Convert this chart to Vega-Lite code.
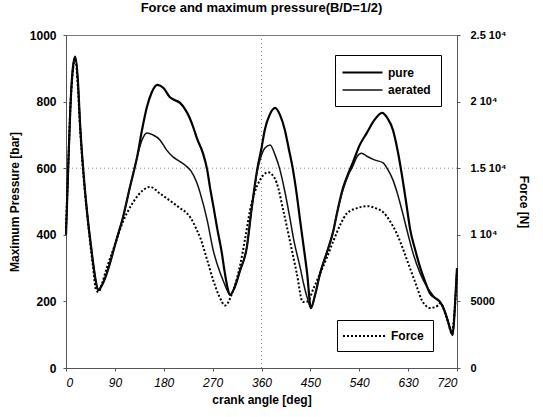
{
  "$schema": "https://vega.github.io/schema/vega-lite/v6.json",
  "width": 391,
  "height": 333,
  "autosize": {"type": "none"},
  "padding": {"left": 66, "top": 35, "right": 86, "bottom": 49},
  "background": "white",
  "title": {"text": "Force and maximum pressure(B/D=1/2)", "font": "Liberation Sans", "fontSize": 13, "fontWeight": "bold", "color": "black", "offset": 14, "anchor": "middle"},
  "config": {
    "font": "Liberation Sans",
    "view": {"stroke": "#777", "strokeWidth": 1},
    "axis": {"labelFont": "Liberation Sans", "titleFont": "Liberation Sans", "labelColor": "black", "titleColor": "black", "grid": false, "domainColor": "#555", "tickColor": "#555", "tickSize": 3, "titleFontWeight": "bold", "titleFontSize": 12},
    "legend": {"labelFont": "Liberation Sans", "labelFontSize": 12, "labelFontWeight": "bold", "labelColor": "black", "strokeColor": "black", "fillColor": "white", "symbolStrokeColor": "black", "symbolFillColor": "transparent", "cornerRadius": 0}
  },
  "datasets": {
    "press": [
      {"a": 0, "s": "pure", "v": 400}, {"a": 4, "s": "pure", "v": 600}, {"a": 8, "s": "pure", "v": 780}, {"a": 12, "s": "pure", "v": 890}, {"a": 17, "s": "pure", "v": 935}, {"a": 22, "s": "pure", "v": 860}, {"a": 26, "s": "pure", "v": 730}, {"a": 32, "s": "pure", "v": 590}, {"a": 39, "s": "pure", "v": 465}, {"a": 45, "s": "pure", "v": 380}, {"a": 50, "s": "pure", "v": 315}, {"a": 55, "s": "pure", "v": 260}, {"a": 59, "s": "pure", "v": 234}, {"a": 65, "s": "pure", "v": 245}, {"a": 72, "s": "pure", "v": 270}, {"a": 81, "s": "pure", "v": 315}, {"a": 92, "s": "pure", "v": 380}, {"a": 105, "s": "pure", "v": 453}, {"a": 118, "s": "pure", "v": 545}, {"a": 131, "s": "pure", "v": 634}, {"a": 140, "s": "pure", "v": 715}, {"a": 149, "s": "pure", "v": 784}, {"a": 158, "s": "pure", "v": 828}, {"a": 168, "s": "pure", "v": 850}, {"a": 180, "s": "pure", "v": 840}, {"a": 191, "s": "pure", "v": 814}, {"a": 200, "s": "pure", "v": 805}, {"a": 210, "s": "pure", "v": 796}, {"a": 220, "s": "pure", "v": 775}, {"a": 228, "s": "pure", "v": 750}, {"a": 235, "s": "pure", "v": 720}, {"a": 241, "s": "pure", "v": 690}, {"a": 252, "s": "pure", "v": 646}, {"a": 260, "s": "pure", "v": 595}, {"a": 265, "s": "pure", "v": 544}, {"a": 272, "s": "pure", "v": 480}, {"a": 278, "s": "pure", "v": 423}, {"a": 287, "s": "pure", "v": 345}, {"a": 292, "s": "pure", "v": 290}, {"a": 297, "s": "pure", "v": 245}, {"a": 302, "s": "pure", "v": 219}, {"a": 310, "s": "pure", "v": 240}, {"a": 320, "s": "pure", "v": 290}, {"a": 333, "s": "pure", "v": 363}, {"a": 342, "s": "pure", "v": 480}, {"a": 352, "s": "pure", "v": 595}, {"a": 360, "s": "pure", "v": 660}, {"a": 366, "s": "pure", "v": 715}, {"a": 375, "s": "pure", "v": 760}, {"a": 385, "s": "pure", "v": 781}, {"a": 394, "s": "pure", "v": 760}, {"a": 403, "s": "pure", "v": 715}, {"a": 410, "s": "pure", "v": 660}, {"a": 418, "s": "pure", "v": 595}, {"a": 425, "s": "pure", "v": 520}, {"a": 431, "s": "pure", "v": 444}, {"a": 438, "s": "pure", "v": 360}, {"a": 444, "s": "pure", "v": 285}, {"a": 451, "s": "pure", "v": 180}, {"a": 458, "s": "pure", "v": 215}, {"a": 468, "s": "pure", "v": 285}, {"a": 481, "s": "pure", "v": 350}, {"a": 492, "s": "pure", "v": 410}, {"a": 499, "s": "pure", "v": 465}, {"a": 510, "s": "pure", "v": 540}, {"a": 520, "s": "pure", "v": 585}, {"a": 528, "s": "pure", "v": 616}, {"a": 541, "s": "pure", "v": 670}, {"a": 554, "s": "pure", "v": 706}, {"a": 568, "s": "pure", "v": 745}, {"a": 582, "s": "pure", "v": 766}, {"a": 592, "s": "pure", "v": 750}, {"a": 602, "s": "pure", "v": 715}, {"a": 611, "s": "pure", "v": 650}, {"a": 620, "s": "pure", "v": 565}, {"a": 627, "s": "pure", "v": 490}, {"a": 634, "s": "pure", "v": 414}, {"a": 643, "s": "pure", "v": 355}, {"a": 652, "s": "pure", "v": 303}, {"a": 660, "s": "pure", "v": 265}, {"a": 670, "s": "pure", "v": 225}, {"a": 680, "s": "pure", "v": 210}, {"a": 689, "s": "pure", "v": 198}, {"a": 695, "s": "pure", "v": 180}, {"a": 701, "s": "pure", "v": 153}, {"a": 707, "s": "pure", "v": 120}, {"a": 712, "s": "pure", "v": 99}, {"a": 716, "s": "pure", "v": 180}, {"a": 720, "s": "pure", "v": 300},
      {"a": 0, "s": "aerated", "v": 400}, {"a": 4, "s": "aerated", "v": 600}, {"a": 8, "s": "aerated", "v": 780}, {"a": 12, "s": "aerated", "v": 890}, {"a": 17, "s": "aerated", "v": 935}, {"a": 22, "s": "aerated", "v": 860}, {"a": 26, "s": "aerated", "v": 730}, {"a": 32, "s": "aerated", "v": 590}, {"a": 39, "s": "aerated", "v": 465}, {"a": 45, "s": "aerated", "v": 380}, {"a": 50, "s": "aerated", "v": 315}, {"a": 55, "s": "aerated", "v": 260}, {"a": 59, "s": "aerated", "v": 234}, {"a": 65, "s": "aerated", "v": 245}, {"a": 72, "s": "aerated", "v": 270}, {"a": 81, "s": "aerated", "v": 315}, {"a": 92, "s": "aerated", "v": 380}, {"a": 105, "s": "aerated", "v": 453}, {"a": 118, "s": "aerated", "v": 545}, {"a": 131, "s": "aerated", "v": 634}, {"a": 140, "s": "aerated", "v": 685}, {"a": 149, "s": "aerated", "v": 706}, {"a": 160, "s": "aerated", "v": 700}, {"a": 173, "s": "aerated", "v": 685}, {"a": 185, "s": "aerated", "v": 655}, {"a": 197, "s": "aerated", "v": 634}, {"a": 210, "s": "aerated", "v": 620}, {"a": 223, "s": "aerated", "v": 604}, {"a": 230, "s": "aerated", "v": 592}, {"a": 241, "s": "aerated", "v": 556}, {"a": 247, "s": "aerated", "v": 526}, {"a": 260, "s": "aerated", "v": 444}, {"a": 271, "s": "aerated", "v": 354}, {"a": 284, "s": "aerated", "v": 285}, {"a": 292, "s": "aerated", "v": 252}, {"a": 297, "s": "aerated", "v": 232}, {"a": 302, "s": "aerated", "v": 219}, {"a": 310, "s": "aerated", "v": 240}, {"a": 320, "s": "aerated", "v": 290}, {"a": 333, "s": "aerated", "v": 363}, {"a": 342, "s": "aerated", "v": 480}, {"a": 352, "s": "aerated", "v": 590}, {"a": 360, "s": "aerated", "v": 640}, {"a": 366, "s": "aerated", "v": 660}, {"a": 376, "s": "aerated", "v": 670}, {"a": 385, "s": "aerated", "v": 640}, {"a": 394, "s": "aerated", "v": 595}, {"a": 403, "s": "aerated", "v": 530}, {"a": 412, "s": "aerated", "v": 453}, {"a": 420, "s": "aerated", "v": 380}, {"a": 431, "s": "aerated", "v": 303}, {"a": 438, "s": "aerated", "v": 250}, {"a": 444, "s": "aerated", "v": 212}, {"a": 451, "s": "aerated", "v": 180}, {"a": 458, "s": "aerated", "v": 215}, {"a": 468, "s": "aerated", "v": 285}, {"a": 481, "s": "aerated", "v": 350}, {"a": 492, "s": "aerated", "v": 410}, {"a": 499, "s": "aerated", "v": 465}, {"a": 510, "s": "aerated", "v": 535}, {"a": 520, "s": "aerated", "v": 580}, {"a": 528, "s": "aerated", "v": 605}, {"a": 536, "s": "aerated", "v": 635}, {"a": 544, "s": "aerated", "v": 645}, {"a": 554, "s": "aerated", "v": 636}, {"a": 568, "s": "aerated", "v": 625}, {"a": 584, "s": "aerated", "v": 616}, {"a": 593, "s": "aerated", "v": 595}, {"a": 602, "s": "aerated", "v": 565}, {"a": 611, "s": "aerated", "v": 520}, {"a": 620, "s": "aerated", "v": 465}, {"a": 630, "s": "aerated", "v": 400}, {"a": 639, "s": "aerated", "v": 345}, {"a": 652, "s": "aerated", "v": 285}, {"a": 665, "s": "aerated", "v": 243}, {"a": 674, "s": "aerated", "v": 222}, {"a": 680, "s": "aerated", "v": 210}, {"a": 689, "s": "aerated", "v": 198}, {"a": 695, "s": "aerated", "v": 180}, {"a": 701, "s": "aerated", "v": 153}, {"a": 707, "s": "aerated", "v": 120}, {"a": 712, "s": "aerated", "v": 99}, {"a": 716, "s": "aerated", "v": 180}, {"a": 720, "s": "aerated", "v": 300}
    ],
    "force": [
      {"a": 0, "s": "Force", "v": 10500}, {"a": 4, "s": "Force", "v": 15000}, {"a": 8, "s": "Force", "v": 19500}, {"a": 12, "s": "Force", "v": 22000}, {"a": 17, "s": "Force", "v": 23250}, {"a": 22, "s": "Force", "v": 21000}, {"a": 26, "s": "Force", "v": 18000}, {"a": 32, "s": "Force", "v": 14500}, {"a": 39, "s": "Force", "v": 11500}, {"a": 45, "s": "Force", "v": 9200}, {"a": 50, "s": "Force", "v": 7500}, {"a": 55, "s": "Force", "v": 5900}, {"a": 60, "s": "Force", "v": 5700}, {"a": 66, "s": "Force", "v": 6300}, {"a": 75, "s": "Force", "v": 7500}, {"a": 90, "s": "Force", "v": 9250}, {"a": 105, "s": "Force", "v": 11000}, {"a": 123, "s": "Force", "v": 12400}, {"a": 142, "s": "Force", "v": 13350}, {"a": 155, "s": "Force", "v": 13600}, {"a": 173, "s": "Force", "v": 13100}, {"a": 197, "s": "Force", "v": 12400}, {"a": 210, "s": "Force", "v": 12000}, {"a": 223, "s": "Force", "v": 11600}, {"a": 230, "s": "Force", "v": 11250}, {"a": 241, "s": "Force", "v": 10350}, {"a": 247, "s": "Force", "v": 9800}, {"a": 260, "s": "Force", "v": 8100}, {"a": 271, "s": "Force", "v": 6600}, {"a": 282, "s": "Force", "v": 5400}, {"a": 293, "s": "Force", "v": 4700}, {"a": 305, "s": "Force", "v": 5500}, {"a": 320, "s": "Force", "v": 7600}, {"a": 330, "s": "Force", "v": 9750}, {"a": 339, "s": "Force", "v": 11850}, {"a": 348, "s": "Force", "v": 13250}, {"a": 357, "s": "Force", "v": 14100}, {"a": 372, "s": "Force", "v": 14700}, {"a": 380, "s": "Force", "v": 14500}, {"a": 388, "s": "Force", "v": 13900}, {"a": 400, "s": "Force", "v": 11850}, {"a": 412, "s": "Force", "v": 9600}, {"a": 425, "s": "Force", "v": 7100}, {"a": 436, "s": "Force", "v": 4950}, {"a": 445, "s": "Force", "v": 5000}, {"a": 456, "s": "Force", "v": 6000}, {"a": 468, "s": "Force", "v": 7100}, {"a": 480, "s": "Force", "v": 8250}, {"a": 492, "s": "Force", "v": 9500}, {"a": 505, "s": "Force", "v": 10750}, {"a": 517, "s": "Force", "v": 11600}, {"a": 536, "s": "Force", "v": 12000}, {"a": 556, "s": "Force", "v": 12150}, {"a": 570, "s": "Force", "v": 12000}, {"a": 584, "s": "Force", "v": 11700}, {"a": 597, "s": "Force", "v": 11000}, {"a": 609, "s": "Force", "v": 10100}, {"a": 620, "s": "Force", "v": 9000}, {"a": 628, "s": "Force", "v": 8100}, {"a": 637, "s": "Force", "v": 7100}, {"a": 646, "s": "Force", "v": 6100}, {"a": 655, "s": "Force", "v": 5100}, {"a": 662, "s": "Force", "v": 4700}, {"a": 670, "s": "Force", "v": 4500}, {"a": 678, "s": "Force", "v": 4550}, {"a": 685, "s": "Force", "v": 4700}, {"a": 690, "s": "Force", "v": 4900}, {"a": 698, "s": "Force", "v": 4100}, {"a": 704, "s": "Force", "v": 3400}, {"a": 710, "s": "Force", "v": 2600}, {"a": 716, "s": "Force", "v": 4500}, {"a": 720, "s": "Force", "v": 7250}
    ],
    "gridx": [{"a": 360}],
    "gridy": [{"v": 600}]
  },
  "layer": [
    {
      "data": {"name": "gridx"},
      "mark": {"type": "rule", "color": "#888", "strokeDash": [1, 3], "strokeWidth": 1},
      "encoding": {"x": {"field": "a", "type": "quantitative", "scale": {"domain": [0, 720], "nice": false}}}
    },
    {
      "data": {"name": "gridy"},
      "mark": {"type": "rule", "color": "#888", "strokeDash": [1, 3], "strokeWidth": 1},
      "encoding": {"y": {"field": "v", "type": "quantitative", "scale": {"domain": [0, 1000], "nice": false}, "axis": null}}
    },
    {
      "data": {"name": "press"},
      "mark": {"type": "line", "interpolate": "monotone"},
      "encoding": {
        "x": {"field": "a", "type": "quantitative", "scale": {"domain": [0, 720], "nice": false},
          "axis": {"values": [0, 90, 180, 270, 360, 450, 540, 630, 720], "title": "crank angle [deg]", "labelFontStyle": "italic", "labelFontSize": 12, "labelPadding": 6, "titlePadding": 6}},
        "y": {"field": "v", "type": "quantitative", "scale": {"domain": [0, 1000], "nice": false},
          "axis": {"orient": "left", "values": [0, 200, 400, 600, 800, 1000], "format": "d", "title": "Maximum Pressure [bar]", "labelFontWeight": "bold", "labelFontSize": 12, "labelPadding": 7, "titlePadding": 8}},
        "color": {"field": "s", "type": "nominal", "scale": {"domain": ["pure", "aerated"], "range": ["black", "#111"]},
          "legend": {"title": null, "orient": "none", "legendX": 269, "legendY": 20, "padding": 10, "rowPadding": 4, "symbolType": "M-3.33,0H3.33", "symbolSize": 144, "symbolOffset": 10, "labelOffset": 18}},
        "strokeWidth": {"field": "s", "type": "nominal", "scale": {"type": "ordinal", "domain": ["pure", "aerated"], "range": [2.2, 1.5]},
          "legend": {"title": null, "orient": "none", "legendX": 269, "legendY": 20, "padding": 10, "rowPadding": 4, "symbolType": "M-3.33,0H3.33", "symbolSize": 144, "symbolOffset": 10, "labelOffset": 18}}
      }
    },
    {
      "data": {"name": "force"},
      "mark": {"type": "line", "interpolate": "monotone", "color": "black", "strokeWidth": 2},
      "encoding": {
        "x": {"field": "a", "type": "quantitative", "scale": {"domain": [0, 720], "nice": false}},
        "y": {"field": "v", "type": "quantitative", "scale": {"domain": [0, 25000], "nice": false},
          "axis": {"orient": "right", "values": [0, 5000, 10000, 15000, 20000, 25000], "format": "d", "labelExpr": "datum.value >= 10000 ? format(datum.value / 10000, '') + ' 10\u2074' : datum.label", "title": "Force [N]", "labelFontWeight": "bold", "labelFontSize": 11, "labelPadding": 10, "titlePadding": 10}},
        "strokeDash": {"field": "s", "type": "nominal", "scale": {"domain": ["Force"], "range": [[2, 2]]},
          "legend": {"title": null, "orient": "none", "legendX": 271, "legendY": 285, "padding": 9, "symbolType": "M-3.5,0H3.5", "symbolSize": 144, "symbolOffset": 11, "labelOffset": 20, "symbolStrokeWidth": 2}}
      }
    }
  ],
  "resolve": {"scale": {"y": "independent"}}
}
